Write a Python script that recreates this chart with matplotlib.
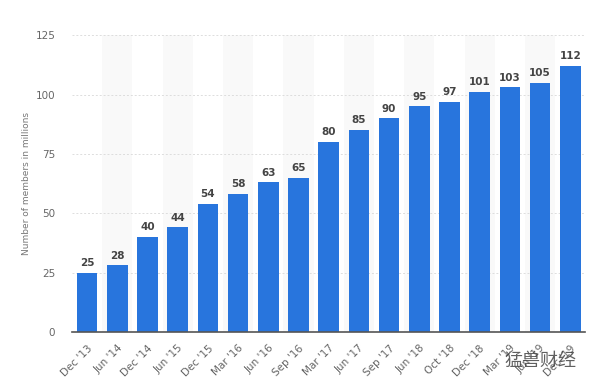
import matplotlib.pyplot as plt
import numpy as np

# Data
periods = ["Dec '13", "Jun '14", "Dec '14", "Jun '15", "Dec '15", "Mar '16",
           "Jun '16", "Sep '16", "Mar '17", "Jun '17", "Sep '17", "Jun '18",
           "Oct '18", "Dec '18", "Mar '19", "Jun '19", "Dec '19"]
members = [25, 28, 40, 44, 54, 58, 63, 65, 80, 85, 90, 95, 97, 101, 103, 105, 112]
y_ticks = [0, 25, 50, 75, 100, 125]

fig = plt.figure(figsize=(5.97, 3.82), dpi=100)
ax = fig.add_axes([0.1206, 0.131, 0.86, 0.777])

x = np.arange(len(periods))

# alternating column shading
for i in x:
    if i % 2 == 1:
        ax.axvspan(i - 0.5, i + 0.5, color='#f9f9f9', zorder=0, lw=0)

ax.bar(x, members, width=0.68, color='#2875dd', zorder=3)

for xi, v in zip(x, members):
    ax.text(xi, v + 2, str(v), ha='center', va='bottom', fontsize=7.5,
            fontweight='bold', color='#444444', zorder=4)

ax.set_xlim(-0.5, len(periods) - 0.5)
ax.set_ylim(0, 125)
ax.set_yticks(y_ticks)
ax.yaxis.grid(True, linestyle=(0, (2, 2)), color='#dddddd', lw=0.7, zorder=1)
ax.set_xticks(x)
ax.set_xticklabels(periods, rotation=45, ha='right', rotation_mode='anchor')
ax.tick_params(axis='both', length=0, labelsize=7.5, colors='#666666', pad=8)
ax.tick_params(axis='y', pad=12)

for s in ['top', 'right', 'left']:
    ax.spines[s].set_visible(False)
ax.spines['bottom'].set_color('#555555')
ax.spines['bottom'].set_linewidth(1.2)
ax.spines['bottom'].set_zorder(5)

ax.set_ylabel('Number of members in millions', fontsize=6.5, color='#777777', labelpad=3)

# watermark
fig.text(0.905, 0.055, '猛兽财经', fontsize=13, color='#444444', alpha=0.85,
         family=['Noto Sans CJK SC', 'DejaVu Sans'], ha='center', va='center')

fig.savefig('out.png', dpi=100)
